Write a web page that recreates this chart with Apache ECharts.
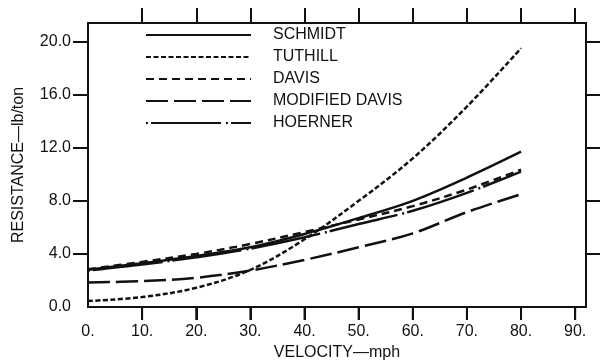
<!DOCTYPE html>
<html>
<head>
<meta charset="utf-8">
<script src="https://cdn.jsdelivr.net/npm/echarts@6/dist/echarts.min.js"></script>
<style>
  html, body { margin: 0; padding: 0; background: #ffffff; }
  #chart { width: 602px; height: 360px; }
</style>
</head>
<body>
<div id="chart"></div>
<script>
// Train resistance (lb/ton) versus velocity (mph) for five formulas
const speeds = [0, 10, 20, 30, 40, 50, 60, 70, 80];
const schmidt = [2.8, 3.3, 3.85, 4.5, 5.5, 6.7, 8.0, 9.75, 11.7];
const tuthill = [0.45, 0.75, 1.45, 2.8, 5.1, 8.0, 11.2, 15.1, 19.5];
const davis = [2.85, 3.4, 4.0, 4.75, 5.65, 6.6, 7.6, 8.85, 10.35];
const modifiedDavis = [1.85, 1.95, 2.2, 2.75, 3.55, 4.5, 5.55, 7.15, 8.5];
const hoerner = [2.75, 3.2, 3.75, 4.4, 5.25, 6.25, 7.25, 8.6, 10.2];

const seriesNames = ['SCHMIDT', 'TUTHILL', 'DAVIS', 'MODIFIED DAVIS', 'HOERNER'];
const xTickValues = [10, 20, 30, 40, 50, 60, 70, 80, 90];
const xLabelValues = [0, 10, 20, 30, 40, 50, 60, 70, 80, 90];
const yTickValues = [4, 8, 12, 16, 20];
const yLabelValues = [0, 4, 8, 12, 16, 20];

const FONT = 'Liberation Sans';
const INK = '#111111';
const X_MAX = 92;
const Y_MAX = 21.4;
const BOTTOM_TICK_LENGTH = 13;

function pairs(ys) {
  return speeds.map((s, i) => [s, ys[i]]);
}

function curve(name, ys, dash) {
  return {
    name: name,
    type: 'line',
    data: pairs(ys),
    smooth: 0.35,
    symbol: 'none',
    showSymbol: false,
    lineStyle: { color: INK, width: 2.5, type: dash },
    itemStyle: { color: INK },
    z: 3
  };
}

function frameLine(show) {
  return { show: show, onZero: false, lineStyle: { color: INK, width: 2 } };
}

function ticks(values, length) {
  return {
    show: true, inside: false, length: length,
    customValues: values,
    lineStyle: { color: INK, width: 2 }
  };
}

// outward tick marks hanging below the velocity axis, placed through the x scale
const bottomTicks = {
  type: 'custom',
  name: 'velocity ticks',
  data: xTickValues.map(v => [v, 0]),
  encode: { x: 0, y: 1 },
  clip: false,
  silent: true,
  z: 4,
  renderItem: function (params, api) {
    const p = api.coord([api.value(0), 0]);
    return {
      type: 'line',
      shape: { x1: p[0], y1: p[1], x2: p[0], y2: p[1] + BOTTOM_TICK_LENGTH },
      style: { stroke: INK, lineWidth: 2 }
    };
  }
};

const option = {
  animation: false,
  backgroundColor: '#ffffff',
  grid: {
    left: 88, right: 16, top: 23, bottom: 53,
    containLabel: false,
    outerBoundsMode: 'none'
  },
  legend: {
    data: seriesNames,
    orient: 'vertical',
    left: 145,
    top: 27,
    padding: 0,
    itemWidth: 105,
    itemHeight: 14,
    itemGap: 6,
    selectedMode: false,
    itemStyle: { opacity: 0 },
    textStyle: {
      color: INK,
      fontFamily: FONT,
      fontSize: 16,
      lineHeight: 16,
      padding: [0, 0, 0, 17]
    }
  },
  xAxis: [
    {
      // labelled bottom side
      type: 'value',
      position: 'bottom',
      min: 0,
      max: X_MAX,
      name: 'VELOCITY\u2014mph',
      nameLocation: 'middle',
      nameGap: 37,
      nameTextStyle: { color: INK, fontFamily: FONT, fontSize: 16 },
      axisLine: frameLine(true),
      axisTick: ticks(xTickValues, BOTTOM_TICK_LENGTH),
      axisLabel: {
        customValues: xLabelValues,
        formatter: v => v + '.',
        color: INK, fontFamily: FONT, fontSize: 16,
        margin: 17
      },
      splitLine: { show: false }
    },
    {
      // top side of the frame
      type: 'value',
      position: 'top',
      min: 0,
      max: X_MAX,
      axisLine: frameLine(true),
      axisTick: ticks(xTickValues, 15),
      axisLabel: { show: false },
      splitLine: { show: false }
    }
  ],
  yAxis: [
    {
      type: 'value',
      position: 'left',
      min: 0,
      max: Y_MAX,
      name: 'RESISTANCE\u2014lb/ton',
      nameLocation: 'middle',
      nameGap: 61,
      nameRotate: 90,
      nameTextStyle: { color: INK, fontFamily: FONT, fontSize: 16 },
      axisLine: frameLine(true),
      axisTick: ticks(yTickValues, 15),
      axisLabel: {
        customValues: yLabelValues,
        formatter: v => v.toFixed(1),
        color: INK, fontFamily: FONT, fontSize: 16,
        margin: 17
      },
      splitLine: { show: false }
    },
    {
      type: 'value',
      position: 'right',
      min: 0,
      max: Y_MAX,
      axisLine: frameLine(true),
      axisTick: ticks(yTickValues, 14),
      axisLabel: { show: false },
      splitLine: { show: false }
    }
  ],
  series: [
    curve('SCHMIDT', schmidt, 'solid'),
    curve('TUTHILL', tuthill, [5, 2.5]),
    curve('DAVIS', davis, [8, 5]),
    curve('MODIFIED DAVIS', modifiedDavis, [22, 6]),
    curve('HOERNER', hoerner, [2, 3, 70, 5]),
    bottomTicks
  ]
};

const chart = echarts.init(document.getElementById('chart'), null, { renderer: 'canvas' });
chart.setOption(option);
</script>
</body>
</html>
